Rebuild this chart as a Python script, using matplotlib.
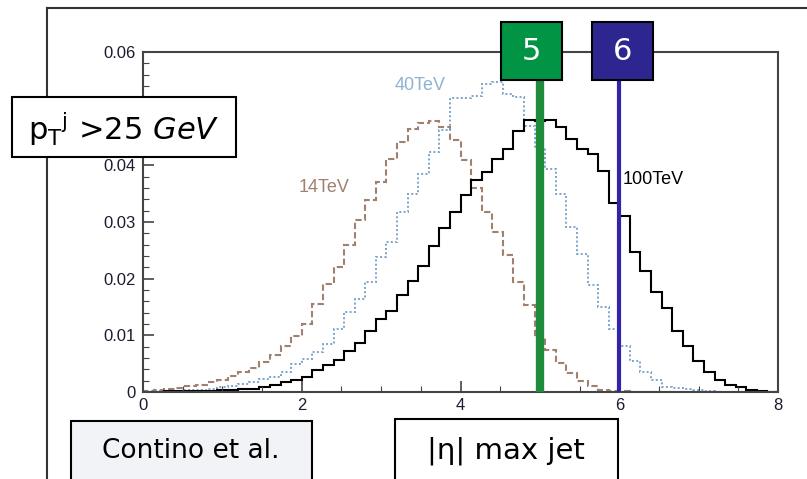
import matplotlib
matplotlib.use("Agg")
import matplotlib.pyplot as plt
import matplotlib.patches as patches
from matplotlib.lines import Line2D
from matplotlib.ticker import MultipleLocator
import numpy as np

W = 807
H = 479

# histogram binning |eta| 0..8, 60 bins
edges = np.linspace(0, 8, 61)

h14 = [0.0002, 0.0003, 0.0005, 0.0007, 0.0010, 0.0013, 0.0017, 0.0022, 0.0028, 0.0035,
       0.0043, 0.0053, 0.0066, 0.0082, 0.0098, 0.0120, 0.0155, 0.0190, 0.0220, 0.0260,
       0.0304, 0.0338, 0.0370, 0.0412, 0.0441, 0.0465, 0.0475, 0.0478, 0.0468, 0.0445,
       0.0410, 0.0360, 0.0318, 0.0282, 0.0241, 0.0194, 0.0153, 0.0096, 0.0075, 0.0052,
       0.0033, 0.0019, 0.0010, 0.0004, 0.0002, 0.0001, 0.0, 0.0, 0.0, 0.0,
       0.0, 0.0, 0.0, 0.0, 0.0, 0.0, 0.0, 0.0, 0.0, 0.0]

h40 = [0.0, 0.0001, 0.0001, 0.0002, 0.0003, 0.0004, 0.0006, 0.0008, 0.0011, 0.0015,
       0.0018, 0.0023, 0.0027, 0.0035, 0.0050, 0.0059, 0.0071, 0.0085, 0.0112, 0.0141,
       0.0165, 0.0194, 0.0238, 0.0265, 0.0318, 0.0350, 0.0385, 0.0424, 0.0462, 0.0518,
       0.0518, 0.0522, 0.0544, 0.0547, 0.0526, 0.0520, 0.0470, 0.0430, 0.0394, 0.0350,
       0.0291, 0.0244, 0.0188, 0.0150, 0.0112, 0.0082, 0.0055, 0.0035, 0.0021, 0.0009,
       0.0007, 0.0005, 0.0003, 0.0001, 0.0, 0.0, 0.0, 0.0, 0.0, 0.0]

h100 = [0.0, 0.0, 0.0001, 0.0001, 0.0001, 0.0002, 0.0002, 0.0003, 0.0004, 0.0005,
        0.0006, 0.0008, 0.0012, 0.0017, 0.0021, 0.0027, 0.0039, 0.0048, 0.0057, 0.0072,
        0.0086, 0.0107, 0.0128, 0.0143, 0.0172, 0.0196, 0.0222, 0.0258, 0.0290, 0.0318,
        0.0347, 0.0374, 0.0388, 0.0412, 0.0429, 0.0461, 0.0480, 0.0478, 0.0480, 0.0467,
        0.0447, 0.0428, 0.0420, 0.0390, 0.0334, 0.0310, 0.0247, 0.0214, 0.0176, 0.0149,
        0.0108, 0.0082, 0.0054, 0.0036, 0.0021, 0.0013, 0.0008, 0.0003, 0.0001, 0.0]

labels = ["14TeV", "40TeV", "100TeV"]
cuts = [5, 6]
cut_labels = ["5", "6"]
cut_top = 0.055

# y tick labels; 0.05 sits under the pT box in the original, left out
yticks = [0, 0.01, 0.02, 0.03, 0.04, 0.06]
yticklabels = ["0", "0.01", "0.02", "0.03", "0.04", "0.06"]

def px(x, y):
	# pixel (from top-left) -> figure fraction
	return x / W, 1 - y / H

fig = plt.figure(figsize=(W / 100, H / 100), dpi=100)
fig.patch.set_facecolor("white")
ax = fig.add_axes([143 / W, (H - 392) / H, 635 / W, 340 / H])

ax.stairs(h14, edges, color="#a0806f", lw=1.5, linestyle=(0, (3, 1.5)))
ax.stairs(h40, edges, color="#7ba3cc", lw=1.4, linestyle=(0, (1, 1.2)))
ax.stairs(h100, edges, color="black", lw=1.5)

ax.vlines(cuts[0], 0, cut_top, color="#1f8c3c", lw=6, zorder=5)
ax.vlines(cuts[1], 0, cut_top, color="#3322aa", lw=3, zorder=5)

ax.set_xlim(0, 8)
ax.set_ylim(0, 0.06)
ax.xaxis.set_major_locator(MultipleLocator(2))
ax.xaxis.set_minor_locator(MultipleLocator(0.5))
ax.yaxis.set_minor_locator(MultipleLocator(0.002))
ax.set_yticks(yticks)
ax.set_yticklabels(yticklabels)
ax.tick_params(which="both", direction="in", colors="#444444", labelcolor="#1c1c30",
               labelsize=12)
ax.tick_params(which="major", length=8, width=1.2)
ax.tick_params(which="minor", length=4, width=0.8)
ax.tick_params(axis="x", pad=4)
ax.tick_params(axis="y", pad=5)
for lab in ax.get_xticklabels() + ax.get_yticklabels():
	lab.set_family("Liberation Sans")
for s in ax.spines.values():
	s.set_color("#444444")
	s.set_linewidth(1.5)

# curve labels
fig.text(*px(324, 188), labels[0], color="#a0806f", fontsize=13, family="Liberation Sans",
         ha="center", va="center")
fig.text(*px(420, 85), labels[1], color="#8fb2d2", fontsize=13, family="Liberation Sans",
         ha="center", va="center")
fig.text(*px(623, 180), labels[2], color="black", fontsize=13, family="Liberation Sans",
         ha="left", va="center")

# outer frame lines
fig.add_artist(Line2D([47 / W, 1], [1 - 8 / H, 1 - 8 / H], color="#333333", lw=1.5))
fig.add_artist(Line2D([47 / W, 47 / W], [0, 1 - 8 / H], color="#333333", lw=1.5))

def box(x0, y0, x1, y1, fc):
	r = patches.Rectangle(px(x0, y1), (x1 - x0) / W, (y1 - y0) / H, transform=fig.transFigure,
	                      facecolor=fc, edgecolor="black", lw=1.5, zorder=10)
	fig.add_artist(r)

# cut boxes
box(501, 22, 562, 80, "#009444")
fig.text(*px(531.5, 52), cut_labels[0], color="white", fontsize=22, ha="center", va="center", zorder=11)
box(592, 22, 653, 80, "#2e2690")
fig.text(*px(622.5, 52), cut_labels[1], color="white", fontsize=22, ha="center", va="center", zorder=11)

# text boxes
box(12, 97, 236, 157, "white")
fig.text(*px(124, 129), r"p$_\mathregular{T}$$^\mathregular{j}$ >25 $\mathit{GeV}$", fontsize=22,
         ha="center", va="center", zorder=11)
box(71, 421, 312, 485, "#f2f3f6")
fig.text(*px(191, 451), "Contino et al.", fontsize=19, ha="center", va="center", zorder=11)
box(395, 419, 618, 485, "white")
fig.text(*px(506, 451), "|η| max jet", fontsize=21, ha="center", va="center", zorder=11)

fig.savefig("out.png", dpi=100)
